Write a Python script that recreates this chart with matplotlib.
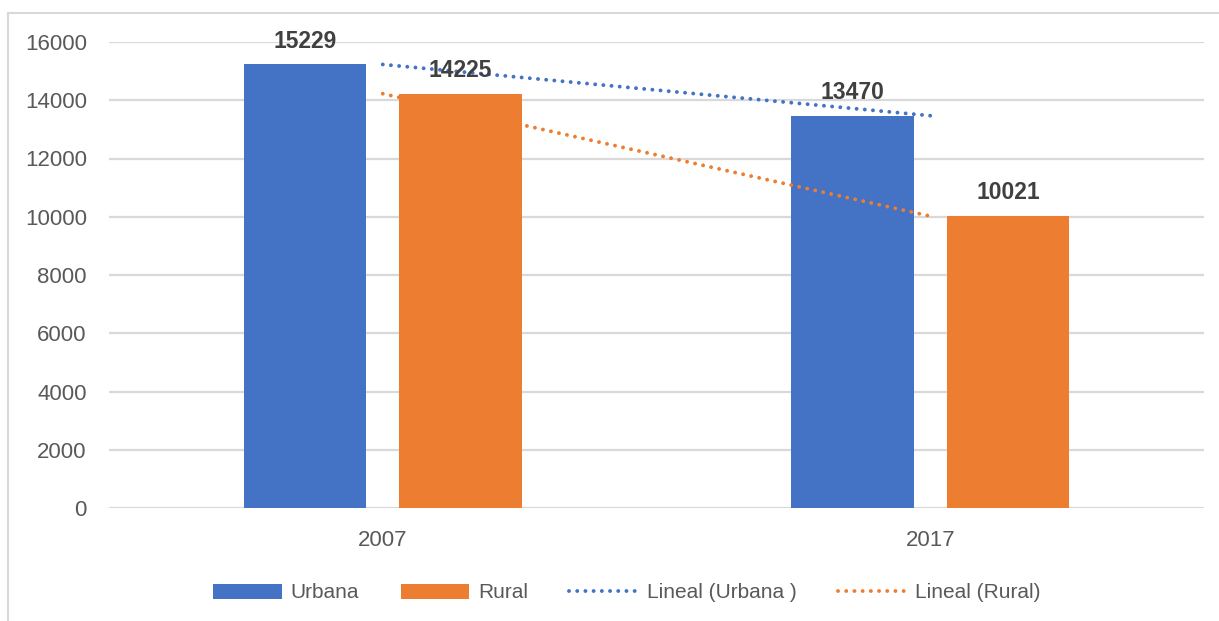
import numpy as np
import matplotlib.pyplot as plt
from matplotlib.lines import Line2D

plt.rcParams['font.family'] = ['Liberation Sans', 'DejaVu Sans']

# data
years = ['2007', '2017']
urbana = [15229, 13470]
rural = [14225, 10021]

blue = '#4472C4'
orange = '#ED7D31'

fig = plt.figure(figsize=(12.19, 6.21), dpi=100)
ax = fig.add_axes([109/1219, 1 - 508/621, (1204 - 109)/1219, (508 - 42)/621])

x = np.arange(len(years))
w = 0.223
off = 0.142
b1 = ax.bar(x - off, urbana, w, color=blue, label='Urbana', zorder=2)
b2 = ax.bar(x + off, rural, w, color=orange, label='Rural', zorder=2)

# linear trendlines (two points -> line through the values)
dots = (0, (0.01, 2.1))
ax.plot(x, np.polyval(np.polyfit(x, urbana, 1), x), color=blue, lw=2.8,
        linestyle=dots, dash_capstyle='round', zorder=3, label='Lineal (Urbana )')
ax.plot(x, np.polyval(np.polyfit(x, rural, 1), x), color=orange, lw=2.8,
        linestyle=dots, dash_capstyle='round', zorder=3, label='Lineal (Rural)')

# data labels
for bars in (b1, b2):
    for r in bars:
        ax.annotate(f'{int(r.get_height())}', (r.get_x() + r.get_width()/2, r.get_height()),
                    xytext=(0, 8.5), textcoords='offset points', ha='center', va='bottom',
                    fontsize=16.5, fontweight='bold', color='#404040', zorder=4)

ax.set_xlim(-0.5, 1.5)
ax.set_ylim(0, 16000)
ax.set_yticks(np.arange(0, 16001, 2000))
ax.set_xticks(x)
ax.set_xticklabels(years)
ax.grid(axis='y', color='#D9D9D9', lw=1.6, zorder=0)
ax.set_axisbelow(True)
for s in ax.spines.values():
    s.set_visible(False)
ax.tick_params(axis='both', length=0, labelsize=16, labelcolor='#595959')
ax.tick_params(axis='y', pad=16)
ax.tick_params(axis='x', pad=16)

h, l = ax.get_legend_handles_labels()
order = [2, 3, 0, 1]
h = [h[i] for i in order]
l = [l[i] for i in order]
fig.legend(h, l, loc='center', bbox_to_anchor=(627/1219, 1 - 593/621), ncol=4,
           frameon=False, fontsize=15, labelcolor='#595959', handlelength=3.3,
           handleheight=0.7, handletextpad=0.4, columnspacing=2.0)

# chart area border (left and top visible)
fig.add_artist(Line2D([8/1219, 8/1219], [0, 1 - 13/621], color='#D9D9D9', lw=1.5))
fig.add_artist(Line2D([8/1219, 1], [1 - 13/621, 1 - 13/621], color='#D9D9D9', lw=1.5))

fig.savefig('out.png', dpi=100)
